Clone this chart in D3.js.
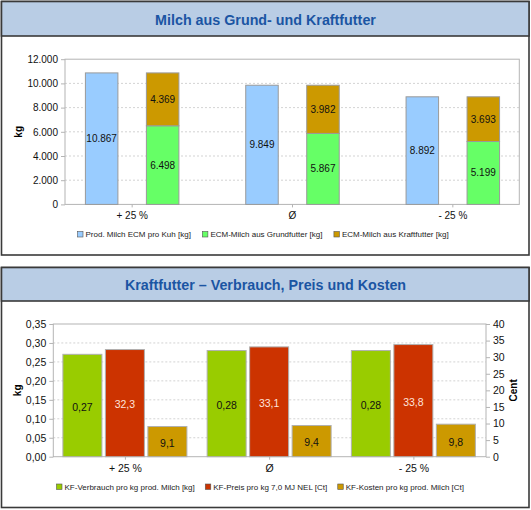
<!DOCTYPE html>
<html><head><meta charset="utf-8">
<script src="https://cdn.jsdelivr.net/npm/d3@7"></script>
<style>
body{margin:0;background:#fff;}
svg{display:block;font-family:"Liberation Sans",Arial,sans-serif;}
</style></head>
<body>
<svg id="c" width="531" height="510"></svg>
<script>
// ---- data ----
const categories = ["+ 25 %", "Ø", "- 25 %"];
const milchProd  = [10867, 9849, 8892];
const milchGrund = [6498, 5867, 5199];
const milchKraft = [4369, 3982, 3693];
const milchTicks = [0, 2000, 4000, 6000, 8000, 10000, 12000];
const milchLegend = ["Prod. Milch ECM pro Kuh [kg]", "ECM-Milch aus Grundfutter [kg]", "ECM-Milch aus Kraftfutter [kg]"];

const kfVerbrauch = [0.27, 0.28, 0.28];
const kfPreis     = [32.3, 33.1, 33.8];
const kfKosten    = [9.1, 9.4, 9.8];
const kgTicks   = [0, 0.05, 0.10, 0.15, 0.20, 0.25, 0.30, 0.35];
const centTicks = [0, 5, 10, 15, 20, 25, 30, 35, 40];
const kfLegend = ["KF-Verbrauch pro kg prod. Milch [kg]", "KF-Preis pro kg 7,0 MJ NEL [Ct]", "KF-Kosten pro kg prod. Milch [Ct]"];

const title1 = "Milch aus Grund- und Kraftfutter";
const title2 = "Kraftfutter \u2013 Verbrauch, Preis und Kosten";

// ---- locale ----
const de = d3.formatLocale({decimal: ",", thousands: ".", grouping: [3], currency: ["", " €"]});
const fInt = de.format(",.0f"), f2 = de.format(".2f"), f1 = de.format(".1f");

const svg = d3.select("#c");
const FONT = 10;

function panel(y0, y1, hb, title, ty) {
  svg.append("rect").attr("x", 1.5).attr("y", y0).attr("width", 527.5).attr("height", y1 - y0)
    .attr("fill", "#fff").attr("stroke", "#3a3a3a").attr("stroke-width", 1.6);
  svg.append("rect").attr("x", 1.5).attr("y", y0).attr("width", 527.5).attr("height", hb - y0)
    .attr("fill", "#b9cde5").attr("stroke", "#3a3a3a").attr("stroke-width", 1.6);
  svg.append("text").attr("x", 265.5).attr("y", ty).attr("text-anchor", "middle")
    .attr("font-size", 14.3).attr("font-weight", "bold").attr("fill", "#1b55a3").text(title);
}
panel(1.5, 255, 36, title1, 25);
panel(267.5, 507.5, 301, title2, 290);

function legend(items, colors, y, x0, gaps) {
  let x = x0;
  items.forEach((t, i) => {
    svg.append("rect").attr("x", x).attr("y", y - 5.5).attr("width", 5.5).attr("height", 5.5)
      .attr("fill", colors[i]).attr("stroke", "#555").attr("stroke-width", 0.6);
    const tx = svg.append("text").attr("x", x + 8).attr("y", y).attr("font-size", 8).attr("fill", "#222").text(t);
    x = x + 8 + tx.node().getComputedTextLength() + gaps;
  });
}

// ================= Chart 1 =================
{
  const L = 65, R = 519.3, T = 59.2, B = 204.4;
  const y = d3.scaleLinear().domain([0, 12000]).range([B, T]);
  const x0 = d3.scaleBand().domain(categories).range([52, 533]);
  const x1 = d3.scaleBand().domain(["prod", "ecm"]).range([33.4, 126.9]).paddingInner(0.467);
  const g = svg.append("g");
  // grid
  g.selectAll(".gl").data(milchTicks.filter(v => v > 0 && v < 12000)).join("line")
    .attr("x1", L).attr("x2", R).attr("y1", d => y(d)).attr("y2", d => y(d))
    .attr("stroke", "#c8c8c8").attr("stroke-width", 0.8).attr("stroke-dasharray", "2,2");
  // frame
  g.append("rect").attr("x", L).attr("y", T).attr("width", R - L).attr("height", B - T)
    .attr("fill", "none").attr("stroke", "#b4b4b4").attr("stroke-width", 1);
  // y axis
  const ya = g.append("g").attr("transform", `translate(${L},0)`)
    .call(d3.axisLeft(y).tickValues(milchTicks).tickFormat(fInt).tickSize(4).tickPadding(3));
  ya.select(".domain").remove();
  ya.selectAll("line").attr("stroke", "#b4b4b4");
  ya.selectAll("text").attr("font-size", FONT).attr("fill", "#111").attr("font-family", null);
  // x axis
  const xa = g.append("g").attr("transform", `translate(0,${B})`)
    .call(d3.axisBottom(x0).tickSize(3).tickPadding(5));
  xa.select(".domain").remove();
  xa.selectAll("line").attr("stroke", "#b4b4b4");
  xa.selectAll("text").attr("font-size", FONT).attr("fill", "#111").attr("font-family", null);
  // bars
  const cats = categories.map((c, i) => ({c, prod: milchProd[i], grund: milchGrund[i], kraft: milchKraft[i]}));
  const bw = x1.bandwidth();
  const bar = (xv, y0v, y1v, col) => g.append("rect").attr("x", xv).attr("y", y(y1v)).attr("width", bw)
    .attr("height", y(y0v) - y(y1v)).attr("fill", col).attr("stroke", "#9a9a9a").attr("stroke-width", 1);
  const lab = (xv, ym, t, col) => g.append("text").attr("x", xv + bw / 2).attr("y", ym).attr("dy", "0.35em")
    .attr("text-anchor", "middle").attr("font-size", FONT).attr("fill", col).text(t);
  cats.forEach(d => {
    const xp = x0(d.c) + x1("prod"), xe = x0(d.c) + x1("ecm");
    bar(xp, 0, d.prod, "#99ccff");
    bar(xe, 0, d.grund, "#66ff66");
    bar(xe, d.grund, d.grund + d.kraft, "#cc9900");
    lab(xp, (y(0) + y(d.prod)) / 2, fInt(d.prod), "#111");
    lab(xe, (y(0) + y(d.grund)) / 2, fInt(d.grund), "#111");
    lab(xe, (y(d.grund) + y(d.grund + d.kraft)) / 2, fInt(d.kraft), "#111");
  });
  g.append("text").attr("transform", `translate(22,${(T + B) / 2}) rotate(-90)`).attr("text-anchor", "middle")
    .attr("font-size", FONT).attr("font-weight", "bold").text("kg");
  legend(milchLegend, ["#99ccff", "#66ff66", "#cc9900"], 237, 77.5, 11.5);
}

// ================= Chart 2 =================
{
  const L = 53.3, R = 486, T = 324, B = 456.7;
  const y = d3.scaleLinear().domain([0, 0.35]).range([B, T]);
  const yc = d3.scaleLinear().domain([0, 40]).range([B, T]);
  const x0 = d3.scaleBand().domain(categories).range([L, R]);
  const keys = ["verb", "preis", "kost"];
  const x1 = d3.scaleBand().domain(keys).range([9.6, 133.6]).paddingInner(0.082);
  const g = svg.append("g");
  g.selectAll(".gl").data(kgTicks.filter(v => v > 0 && v < 0.35)).join("line")
    .attr("x1", L).attr("x2", R).attr("y1", d => y(d)).attr("y2", d => y(d))
    .attr("stroke", "#c8c8c8").attr("stroke-width", 0.8).attr("stroke-dasharray", "2,2");
  g.append("rect").attr("x", L).attr("y", T).attr("width", R - L).attr("height", B - T)
    .attr("fill", "none").attr("stroke", "#b4b4b4").attr("stroke-width", 1);
  const ya = g.append("g").attr("transform", `translate(${L},0)`)
    .call(d3.axisLeft(y).tickValues(kgTicks).tickFormat(f2).tickSize(4).tickPadding(3));
  ya.select(".domain").remove();
  ya.selectAll("line").attr("stroke", "#b4b4b4");
  ya.selectAll("text").attr("font-size", FONT + 0.5).attr("fill", "#111").attr("font-family", null);
  const yr = g.append("g").attr("transform", `translate(${R},0)`)
    .call(d3.axisRight(yc).tickValues(centTicks).tickFormat(d3.format("d")).tickSize(4).tickPadding(3));
  yr.select(".domain").remove();
  yr.selectAll("line").attr("stroke", "#b4b4b4");
  yr.selectAll("text").attr("font-size", FONT + 0.5).attr("fill", "#111").attr("font-family", null);
  const xa = g.append("g").attr("transform", `translate(0,${B})`)
    .call(d3.axisBottom(x0).tickSize(3).tickPadding(5));
  xa.select(".domain").remove();
  xa.selectAll("line").attr("stroke", "#b4b4b4");
  xa.selectAll("text").attr("font-size", FONT + 0.5).attr("fill", "#111").attr("font-family", null);

  const bw = x1.bandwidth();
  categories.forEach((c, i) => {
    const specs = [
      {k: "verb", sc: y, v: kfVerbrauch[i], col: "#99cc00", t: f2(kfVerbrauch[i]), tc: "#111"},
      {k: "preis", sc: yc, v: kfPreis[i], col: "#cc3300", t: f1(kfPreis[i]), tc: "#ffe4dc"},
      {k: "kost", sc: yc, v: kfKosten[i], col: "#cc9900", t: f1(kfKosten[i]), tc: "#111"}
    ];
    specs.forEach(s => {
      const xv = x0(c) + x1(s.k);
      g.append("rect").attr("x", xv).attr("y", s.sc(s.v)).attr("width", bw).attr("height", s.sc(0) - s.sc(s.v))
        .attr("fill", s.col).attr("stroke", "#b0b0b0").attr("stroke-width", 1);
      g.append("text").attr("x", xv + bw / 2).attr("y", (s.sc(0) + s.sc(s.v)) / 2 + 1.5).attr("dy", "0.35em")
        .attr("text-anchor", "middle").attr("font-size", FONT + 0.5).attr("fill", s.tc).text(s.t);
    });
  });
  g.append("text").attr("transform", `translate(21,${(T + B) / 2}) rotate(-90)`).attr("text-anchor", "middle")
    .attr("font-size", FONT).attr("font-weight", "bold").text("kg");
  g.append("text").attr("transform", `translate(517,${(T + B) / 2}) rotate(-90)`).attr("text-anchor", "middle")
    .attr("font-size", FONT).attr("font-weight", "bold").text("Cent");
  legend(kfLegend, ["#99cc00", "#cc3300", "#cc9900"], 489.5, 56.5, 10.5);
}
</script>
</body></html>
